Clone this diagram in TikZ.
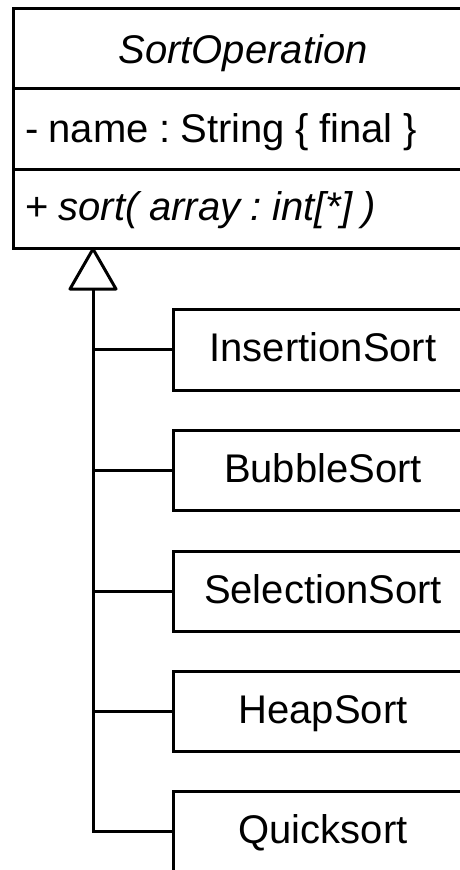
\documentclass[tikz,border=0pt]{standalone}
\usepackage{fontspec}
\setmainfont{Liberation Sans}
\frenchspacing
\begin{document}
\begin{tikzpicture}[x=1pt, y=-1pt, line width=3pt,
  bigfont/.style={font=\fontsize{40}{48}\selectfont},
  umlbox/.style={draw, rectangle, bigfont, inner sep=0pt, outer sep=0pt,
    anchor=north west, minimum width=460pt, minimum height=#1},
  leftbox/.style={umlbox=#1, inner xsep=12pt, text width=436pt, align=left,
    execute at begin node={\spaceskip=10.4pt\relax}},
  subbox/.style={draw, rectangle, bigfont, inner sep=0pt, outer sep=0pt,
    anchor=north west, minimum width=300pt, minimum height=80pt,
    text height=30pt, text depth=6pt}]
\useasboundingbox (0,0) rectangle (460,870);
\clip (0,0) rectangle (460,870);

% abstract class with its three compartments
\node[umlbox=80pt, text height=36pt, text depth=6pt] (title) at (13,8)
  {\itshape SortOperation};
\node[leftbox=81pt, text height=33pt, text depth=6pt] (attr) at (13,88)
  {- name : String \{ final \}};
\node[leftbox=79pt, text height=29pt, text depth=6pt] (oper) at (13,169)
  {+ \textit{sort( array : int[*] )}};

% concrete subclasses
\node[subbox, minimum height=81pt] (ins) at (173,309) {InsertionSort};
\node[subbox] (bub) at (173,430) {BubbleSort};
\node[subbox] (sel) at (173,551) {SelectionSort};
\node[subbox] (heap) at (173,671) {HeapSort};
\node[subbox] (quick) at (173,791) {Quicksort};

% generalisation arrow: hollow triangle and shared trunk
\coordinate (apex) at (93,249);
\coordinate (base) at (93,289);
\draw[line join=round, fill=white] (apex) -- (70,289) -- (116,289) -- cycle;
\draw (base) |- (quick.west);
\foreach \n in {ins,bub,sel,heap}
  \draw (base |- \n.west) -- (\n.west);
\end{tikzpicture}
\end{document}
